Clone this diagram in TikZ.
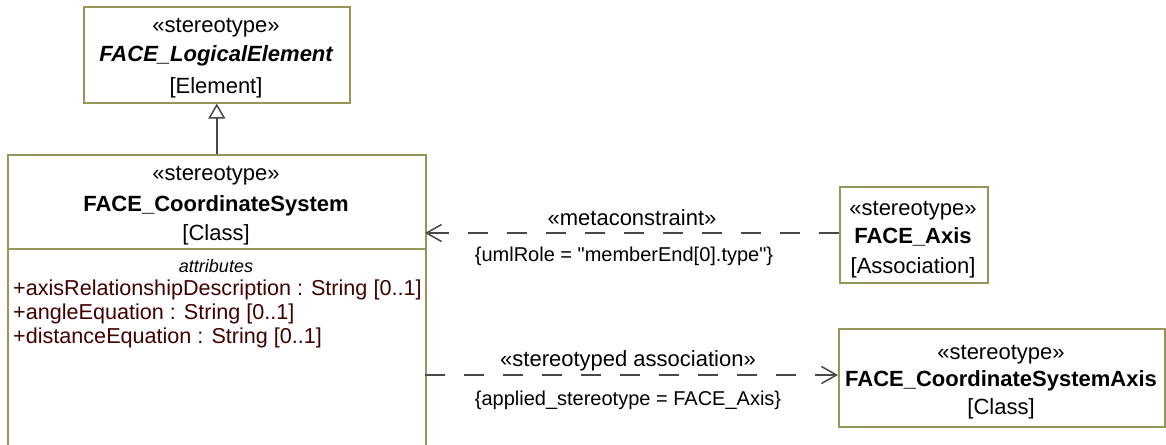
\documentclass[tikz,border=0pt]{standalone}
\usepackage{fontspec}
\setmainfont{Liberation Sans}[Ligatures=TeXOff]
\usetikzlibrary{arrows.meta}
\definecolor{boxline}{RGB}{150,150,90}
\definecolor{attrcol}{RGB}{64,0,0}
\definecolor{conncol}{RGB}{72,72,72}
\begin{document}
\begin{tikzpicture}[x=1pt,y=-1pt,
  umlbox/.style={draw=boxline, line width=1.6pt, fill=white, inner sep=0pt, anchor=north west},
  txt/.style={inner sep=0pt, anchor=base, font=\fontsize{22}{26}\selectfont},
  attrtxt/.style={inner sep=0pt, anchor=base west, text=attrcol, font=\fontsize{21.6}{26}\selectfont},
  lbl/.style={inner sep=0pt, anchor=base, font=\fontsize{20}{24}\selectfont},
  conn/.style={draw=conncol, line width=1.5pt},
  dashconn/.style={conn, dash pattern=on 20pt off 19pt},
  opentip/.style={-{Straight Barb[length=15pt, width=17pt, line width=1.5pt]}},
  gentip/.style={-{Triangle[open, length=15pt, width=17pt, line width=1.5pt]}}
]
\useasboundingbox (0,0) rectangle (1166,444);

% boxes
\node[umlbox, minimum width=266pt, minimum height=96pt] (logical) at (83,6) {};
\node[umlbox, minimum width=418pt, minimum height=300pt] (main) at (7,154) {};
\node[umlbox, minimum width=148pt, minimum height=96pt] (axis) at (839,186) {};
\node[umlbox, minimum width=326pt, minimum height=98pt] (csaxis) at (838,328) {};

% divider in main box
\coordinate (divL) at (7,249);
\coordinate (divR) at (425,249);
\draw[draw=boxline, line width=1.6pt] (divL) -- (divR);

% logical element texts
\node[txt] (l1) at (216,33) {«stereotype»};
\node[txt] (l2) at (216,62) {\bfseries\itshape FACE\_LogicalElement};
\node[txt] (l3) at (216,93) {[Element]};

% main box texts
\node[txt] (m1) at (216,180) {«stereotype»};
\node[txt] (m2) at (216,211) {\bfseries FACE\_CoordinateSystem};
\node[txt] (m3) at (216,240) {[Class]};
\node[inner sep=0pt, anchor=base, font=\fontsize{18}{22}\selectfont\itshape] (m4) at (216,272) {attributes};
\node[attrtxt] (a1) at (13,295) {+axisRelationshipDescription : String [0..1]};
\node[attrtxt] (a2) at (13,319) {+angleEquation : String [0..1]};
\node[attrtxt] (a3) at (13,343) {+distanceEquation : String [0..1]};

% axis box texts
\node[txt] (x1) at (913,215) {«stereotype»};
\node[txt] (x2) at (913,243) {\bfseries FACE\_Axis};
\node[txt] (x3) at (913,273) {[Association]};

% coordinate system axis texts
\node[txt] (c1) at (1001,359) {«stereotype»};
\node[txt] (c2) at (1001,386) {\bfseries FACE\_CoordinateSystemAxis};
\node[txt] (c3) at (1001,414) {[Class]};

% generalization
\draw[conn, gentip] (main.north) -- (logical.south);

% metaconstraint
\coordinate (mcR) at (839,233);
\coordinate (mcL) at (425,233);
\draw[dashconn, opentip] (mcR) -- (mcL);
\node[txt] (mclab) at (632,225) {«metaconstraint»};
\node[lbl] (mclab2) at (624,261) {\{umlRole = "memberEnd[0].type"\}};

% stereotyped association
\coordinate (saL) at (425,375);
\coordinate (saR) at (838,375);
\draw[dashconn, opentip] (saL) -- (saR);
\node[txt] (salab) at (628,366) {«stereotyped association»};
\node[lbl] (salab2) at (628,405) {\{applied\_stereotype = FACE\_Axis\}};
\end{tikzpicture}
\end{document}
